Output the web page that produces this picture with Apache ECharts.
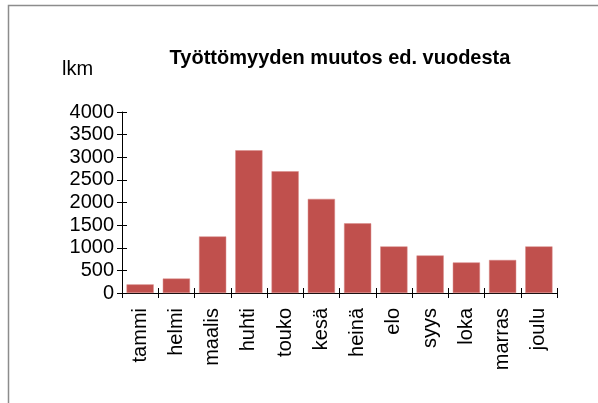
<!DOCTYPE html>
<html>
<head>
<meta charset="utf-8">
<script src="https://cdn.jsdelivr.net/npm/echarts@6/dist/echarts.min.js"></script>
<style>
    html, body { margin: 0; padding: 0; background: #fff; }
    #chart { width: 598px; height: 403px; }
</style>
</head>
<body>
<div id="chart"></div>
<script>
    // kuukaudet ja muutos edellisestä vuodesta (lkm)
    const months = ['tammi', 'helmi', 'maalis', 'huhti', 'touko', 'kesä', 'heinä', 'elo', 'syys', 'loka', 'marras', 'joulu'];
    const changeValues = [190, 320, 1250, 3155, 2690, 2080, 1540, 1030, 830, 675, 730, 1030];
    const yTicks = [0, 4000, 500];

    const fontFamily = '"Liberation Sans", Arial, sans-serif';
    const chart = echarts.init(document.getElementById('chart'));

    // ticks cross the axis line, so every axis is drawn twice: outside + inside ticks
    function xAxisDef(inside) {
        return {
            type: 'category',
            data: months,
            position: 'bottom',
            axisLine: {show: !inside, lineStyle: {color: '#000', width: 1}},
            axisTick: {show: true, inside: inside, length: 5, lineStyle: {color: '#000'}},
            axisLabel: {
                show: !inside,
                rotate: 90,
                margin: 15,
                color: '#000',
                fontSize: 20,
                fontFamily: fontFamily
            }
        };
    }
    function yAxisDef(inside) {
        return {
            type: 'value',
            position: 'left',
            min: yTicks[0],
            max: yTicks[1],
            interval: yTicks[2],
            splitLine: {show: false},
            axisLine: {show: !inside, lineStyle: {color: '#000', width: 1}},
            axisTick: {show: true, inside: inside, length: 5, lineStyle: {color: '#000'}},
            axisLabel: {
                show: !inside,
                margin: 8,
                color: '#000',
                fontSize: 20,
                fontFamily: fontFamily,
                formatter: (v) => String(v)
            }
        };
    }

    chart.setOption({
        animation: false,
        title: {
            text: 'Työttömyyden muutos ed. vuodesta',
            left: 335,
            textAlign: 'center',
            top: 43,
            textStyle: {color: '#000', fontSize: 20, fontWeight: 'bold', fontFamily: fontFamily}
        },
        graphic: [
            {
                type: 'rect',
                shape: {x: 8.5, y: 5.5, width: 700, height: 500},
                style: {fill: 'none', stroke: '#8c8c8c', lineWidth: 1.5},
                silent: true
            },
            {
                type: 'text',
                left: 62,
                top: 59,
                style: {text: 'lkm', fill: '#000', fontSize: 20, fontFamily: fontFamily}
            }
        ],
        grid: {left: 122, right: 41, top: 112, bottom: 110},
        xAxis: [xAxisDef(false), xAxisDef(true)],
        yAxis: [yAxisDef(false), yAxisDef(true)],
        series: [
            {
                type: 'bar',
                data: changeValues,
                barCategoryGap: '25%',
                itemStyle: {color: '#C0504D', borderColor: '#d98a88', borderWidth: 0.5},
                xAxisIndex: 0,
                yAxisIndex: 0
            }
        ]
    });
</script>
</body>
</html>
